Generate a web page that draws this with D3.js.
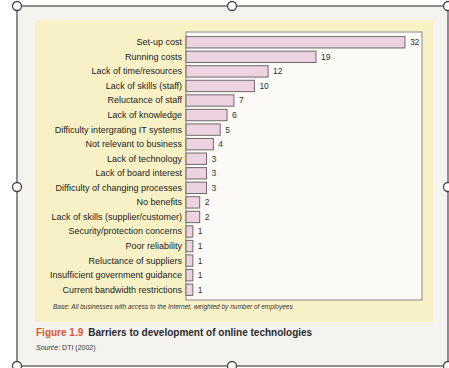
<!DOCTYPE html>
<html>
<head>
<meta charset="utf-8">
<script src="https://cdn.jsdelivr.net/npm/d3@7"></script>
<style>
  html, body { margin: 0; padding: 0; background: #fff; }
  svg { display: block; font-family: "Liberation Sans", Arial, sans-serif; }
</style>
</head>
<body>
<script>
const width = 449
const height = 368

// barriers, in the order printed (top to bottom)
const categories = [
    "Set-up cost", "Running costs", "Lack of time/resources", "Lack of skills (staff)",
    "Reluctance of staff", "Lack of knowledge", "Difficulty intergrating IT systems",
    "Not relevant to business", "Lack of technology", "Lack of board interest",
    "Difficulty of changing processes", "No benefits", "Lack of skills (supplier/customer)",
    "Security/protection concerns", "Poor reliability", "Reluctance of suppliers",
    "Insufficient government guidance", "Current bandwidth restrictions"
]
const values = [32, 19, 12, 10, 7, 6, 5, 4, 3, 3, 3, 2, 2, 1, 1, 1, 1, 1]

const note = "Base: All businesses with access to the Internet, weighted by number of employees"
const figLabel = "Figure 1.9"
const title = "Barriers to development of online technologies"

const box = { left: 186, top: 32, right: 422, bottom: 300 }

const svg = d3.select("body").append("svg")
    .attr("width", width)
    .attr("height", height)

// page inside the selection frame
svg.append("rect")
    .attr("x", 17).attr("y", 6)
    .attr("width", 431).attr("height", 360)
    .attr("fill", "#f4f3f0")

// yellow panel behind the chart
svg.append("rect")
    .attr("x", 35).attr("y", 20)
    .attr("width", 398).attr("height", 302)
    .attr("fill", "#f8f1c6")

// plot box
svg.append("rect")
    .attr("x", box.left).attr("y", box.top)
    .attr("width", box.right - box.left).attr("height", box.bottom - box.top)
    .attr("fill", "#fbfaf7")
    .attr("stroke", "#8a8a8a")
    .attr("stroke-width", 1)

const x = d3.scaleLinear()
    .domain([0, 34.5])
    .range([box.left, box.right])

const y = d3.scaleBand()
    .domain(categories)
    .range([35, 297])
    .paddingInner(0.22)
    .paddingOuter(0.11)

const rows = svg.append("g")
    .selectAll("g")
    .data(categories.map((c, i) => ({ c, v: values[i] })))
    .enter()
    .append("g")

rows.append("rect")
    .attr("x", x(0))
    .attr("y", d => y(d.c))
    .attr("width", d => x(d.v) - x(0))
    .attr("height", y.bandwidth())
    .attr("fill", "#edd3df")
    .attr("stroke", "#6e6a6c")
    .attr("stroke-width", 1)

rows.append("text")
    .attr("x", d => x(d.v) + 5)
    .attr("y", d => y(d.c) + y.bandwidth() / 2)
    .attr("dy", "0.35em")
    .attr("font-size", 8.5)
    .attr("fill", "#333")
    .text(d => d.v)

// category labels via a left axis without line / ticks
const yAxis = svg.append("g")
    .attr("transform", `translate(${box.left - 1},0)`)
    .call(d3.axisLeft(y).tickSize(0).tickPadding(3))
yAxis.select(".domain").remove()
yAxis.selectAll("text")
    .attr("font-size", 9)
    .attr("font-family", "Liberation Sans, Arial, sans-serif")
    .attr("fill", "#222")

svg.append("text")
    .attr("x", 53).attr("y", 309)
    .attr("font-size", 6.5)
    .attr("font-style", "italic")
    .attr("fill", "#333")
    .text(note)

const cap = svg.append("text")
    .attr("x", 36).attr("y", 336)
    .attr("font-size", 10)
    .attr("font-weight", "bold")
cap.append("tspan").attr("fill", "#d9582e").text(figLabel)
cap.append("tspan").attr("fill", "#2b2b2b").attr("dx", 5).text(title)

const src = svg.append("text")
    .attr("x", 36).attr("y", 350)
    .attr("font-size", 7)
    .attr("fill", "#333")
src.append("tspan").attr("font-style", "italic").text("Source")
src.append("tspan").text(": DTI (2002)")

// selection frame and handles
svg.append("rect")
    .attr("x", 17).attr("y", 6)
    .attr("width", 431).attr("height", 360)
    .attr("fill", "none")
    .attr("stroke", "#555")
    .attr("stroke-width", 1.3)

const handles = [[17, 6], [232, 6], [448, 6], [17, 187], [448, 187], [17, 366], [232, 366], [448, 366]]
svg.append("g")
    .selectAll("circle")
    .data(handles)
    .enter()
    .append("circle")
    .attr("cx", d => d[0])
    .attr("cy", d => d[1])
    .attr("r", 4.5)
    .attr("fill", "#fff")
    .attr("stroke", "#444")
    .attr("stroke-width", 1.3)
</script>
</body>
</html>
